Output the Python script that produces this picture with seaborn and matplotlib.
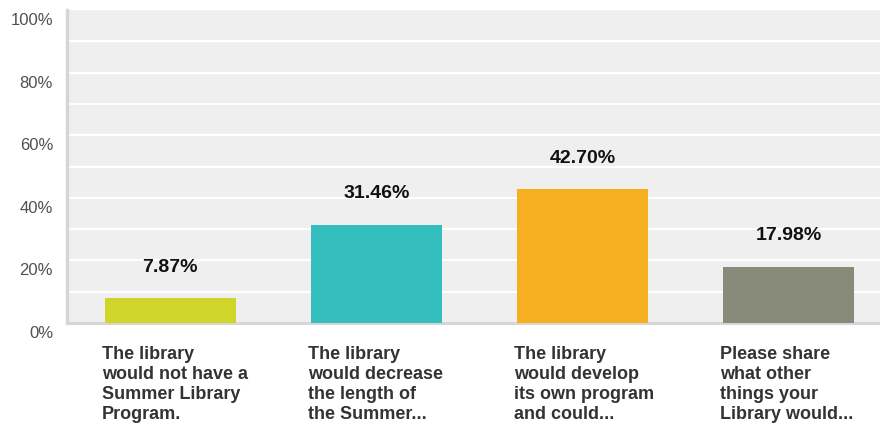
import matplotlib
matplotlib.use("Agg")
import matplotlib.pyplot as plt
import matplotlib.transforms as mtransforms
import seaborn as sns
import pandas as pd

# Survey answer options (wrapped as displayed) and response shares in percent
categories = [
    "The library\nwould not have a\nSummer Library\nProgram.",
    "The library\nwould decrease\nthe length of\nthe Summer...",
    "The library\nwould develop\nits own program\nand could...",
    "Please share\nwhat other\nthings your\nLibrary would...",
]
percentages = [7.87, 31.46, 42.70, 17.98]
value_labels = ["7.87%", "31.46%", "42.70%", "17.98%"]
bar_colors = ["#D0D52B", "#34BEBE", "#F7AF22", "#888A7A"]
y_ticks = [0, 20, 40, 60, 80, 100]
y_tick_labels = ["0%", "20%", "40%", "60%", "80%", "100%"]

sns.set_theme(style="white")
plt.rcParams["font.family"] = ["Liberation Sans", "DejaVu Sans"]

df = pd.DataFrame({"answer": categories, "share": percentages})

fig = plt.figure(figsize=(8.8, 4.24), dpi=100)
ax = fig.add_axes([67 / 880, 101 / 424, 1 - 67 / 880, 313 / 424])
ax.set_facecolor("#EFEFEF")

sns.barplot(
    data=df, x="answer", y="share", hue="answer",
    palette=bar_colors, width=0.636, legend=False, ax=ax,
    saturation=1, edgecolor="none", zorder=3,
)

ax.set_ylim(0, 100)
ax.set_xlim(-0.5, 3.444)

# light white gridlines every 10%
for v in range(10, 100, 10):
    ax.axhline(v, color="white", lw=1.5, zorder=1)

ax.set_yticks(y_ticks)
ax.set_yticklabels(y_tick_labels, fontsize=12, color="#505050")
ax.tick_params(axis="y", length=0, pad=10)
shift = mtransforms.ScaledTranslation(0, -9 / 100, fig.dpi_scale_trans)
for lbl in ax.get_yticklabels():
    lbl.set_transform(lbl.get_transform() + shift)

ax.set_xticks([])
ax.set_xlabel("")
ax.set_ylabel("")

for side in ["top", "right"]:
    ax.spines[side].set_visible(False)
ax.spines["left"].set_color("#D6D6D6")
ax.spines["left"].set_linewidth(2.5)
ax.spines["bottom"].set_color("#D6D6D6")
ax.spines["bottom"].set_linewidth(2.2)

# value labels above the bars
for i, (v, txt) in enumerate(zip(percentages, value_labels)):
    ax.annotate(txt, xy=(i, v), xytext=(0, 22.5), textcoords="offset points",
                ha="center", va="center", fontsize=14, fontweight="bold",
                color="#111111", zorder=5)

# category labels below the axis, left aligned with each bar
xform = mtransforms.blended_transform_factory(ax.transData, ax.transAxes)
for i, cat in enumerate(categories):
    ax.text(i - 0.318 - 0.012, 0, cat,
            transform=xform + mtransforms.ScaledTranslation(0, -23 / 100, fig.dpi_scale_trans),
            ha="left", va="top", fontsize=13, fontweight="bold",
            color="#333333", linespacing=1.22)

fig.savefig("out.png", dpi=100)
